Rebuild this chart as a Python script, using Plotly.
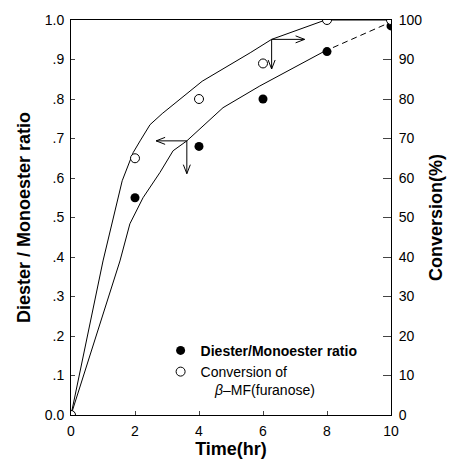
import plotly.graph_objects as go

# ---- data ----
time_hr = [0, 2, 4, 6, 8, 10]
ratio = [0.0, 0.55, 0.68, 0.80, 0.92, 0.985]
conversion = [0, 65, 80, 89, 100, 100]

# fitted curves
conv_fit_t = [0, 1.0, 1.6, 1.94, 2.16, 2.47, 2.85, 4.1, 5.6, 6.27, 7.95, 10]
conv_fit_v = [0, 39, 59.3, 66.4, 69.4, 73.5, 76.3, 84.5, 91.7, 95.1, 100, 100]
ratio_fit_t = [0, 1.53, 1.84, 2.25, 2.78, 3.19, 3.62, 4.75, 5.9, 7.9]
ratio_fit_v = [0, 0.39, 0.484, 0.55, 0.614, 0.669, 0.694, 0.778, 0.833, 0.92]
ratio_ext_t = [7.9, 10]
ratio_ext_v = [0.92, 0.995]

left_ticks = [0, 0.1, 0.2, 0.3, 0.4, 0.5, 0.6, 0.7, 0.8, 0.9, 1.0]
left_ticktext = ["0.0", ".1", ".2", ".3", ".4", ".5", ".6", ".7", ".8", ".9", "1.0"]
right_ticks = [0, 10, 20, 30, 40, 50, 60, 70, 80, 90, 100]
x_ticks = [0, 2, 4, 6, 8, 10]

# arrows: (origin, tip) ; axis 'y' = ratio, 'y2' = conversion
arrows = [
    ((3.62, 0.694), (2.66, 0.694), "y"),
    ((3.62, 0.694), (3.62, 0.611), "y"),
    ((6.27, 95.1), (7.30, 95.1), "y2"),
    ((6.27, 95.1), (6.27, 87.6), "y2"),
]

W, H = 455, 468
ML, MR, MT, MB = 71, 64, 20, 53
PW, PH = W - ML - MR, H - MT - MB

fig = go.Figure()

LINE = dict(color="black", width=1)
fig.add_trace(go.Scatter(x=conv_fit_t, y=conv_fit_v, yaxis="y2", mode="lines",
                         line=LINE, showlegend=False, hoverinfo="skip"))
fig.add_trace(go.Scatter(x=ratio_fit_t, y=ratio_fit_v, mode="lines",
                         line=LINE, showlegend=False, hoverinfo="skip"))
fig.add_trace(go.Scatter(x=ratio_ext_t, y=ratio_ext_v, mode="lines",
                         line=dict(color="black", width=1, dash="6px,4px"),
                         showlegend=False, hoverinfo="skip"))

fig.add_trace(go.Scatter(x=time_hr, y=ratio, mode="markers",
                         name="<b>Diester/Monoester ratio</b>",
                         marker=dict(symbol="circle", size=9, color="black")))
fig.add_trace(go.Scatter(x=time_hr, y=conversion, yaxis="y2", mode="markers",
                         name="Conversion of<br>\u00a0\u00a0\u00a0\u2009<i>β</i>–MF(furanose)",
                         marker=dict(symbol="circle", size=9, color="white",
                                     line=dict(color="black", width=1))))

# arrows as line shapes with open V heads
shapes = []
HEAD_L, HEAD_W = 9, 3.5  # pixels
for (ox, oy), (tx, ty), ax in arrows:
    yr = 1.0 if ax == "y" else 100.0
    yref = "y" if ax == "y" else "y2"
    sx = PW / 10.0
    sy = PH / yr
    shapes.append(dict(type="line", xref="x", yref=yref, x0=ox, y0=oy, x1=tx, y1=ty,
                       line=dict(color="black", width=1)))
    dxp = (tx - ox) * sx
    dyp = (ty - oy) * sy
    n = (dxp ** 2 + dyp ** 2) ** 0.5
    ux, uy = dxp / n, dyp / n
    px, py = -uy, ux
    for s in (1, -1):
        hx = tx + (-ux * HEAD_L + s * px * HEAD_W) / sx
        hy = ty + (-uy * HEAD_L + s * py * HEAD_W) / sy
        shapes.append(dict(type="line", xref="x", yref=yref, x0=tx, y0=ty, x1=hx, y1=hy,
                           line=dict(color="black", width=1)))

FONT = "Arial, Liberation Sans, sans-serif"
fig.update_layout(
    width=W, height=H,
    margin=dict(l=ML, r=MR, t=MT, b=MB, pad=0),
    paper_bgcolor="white", plot_bgcolor="white",
    font=dict(family=FONT, size=14, color="black"),
    shapes=shapes,
    showlegend=True,
    legend=dict(x=0.28, y=0.203, xanchor="left", yanchor="top", valign="top",
                bgcolor="rgba(0,0,0,0)", font=dict(size=14, family=FONT),
                tracegroupgap=0, itemwidth=30),
    xaxis=dict(range=[0, 10], tickvals=x_ticks, ticks="inside", ticklen=4,
               showline=True, linecolor="black", linewidth=1, mirror=True,
               showgrid=False, zeroline=False, ticklabelstandoff=3,
               title=dict(text="<b>Time(hr)</b>", font=dict(size=18), standoff=4),
               tickfont=dict(size=14)),
    yaxis=dict(range=[0, 1], tickvals=left_ticks, ticktext=left_ticktext,
               ticks="inside", ticklen=4, showline=True, linecolor="black", linewidth=1,
               showgrid=False, zeroline=False, ticklabelstandoff=3,
               title=dict(text="<b>Diester / Monoester ratio</b>", font=dict(size=18), standoff=9),
               tickfont=dict(size=14)),
    yaxis2=dict(range=[0, 100], tickvals=right_ticks, overlaying="y", side="right",
                ticks="inside", ticklen=8, showline=True, linecolor="black", linewidth=1,
                showgrid=False, zeroline=False, ticklabelstandoff=4,
                title=dict(text="<b>Conversion(%)</b>", font=dict(size=18), standoff=8),
                tickfont=dict(size=14)),
)

fig.write_html("out.html")
